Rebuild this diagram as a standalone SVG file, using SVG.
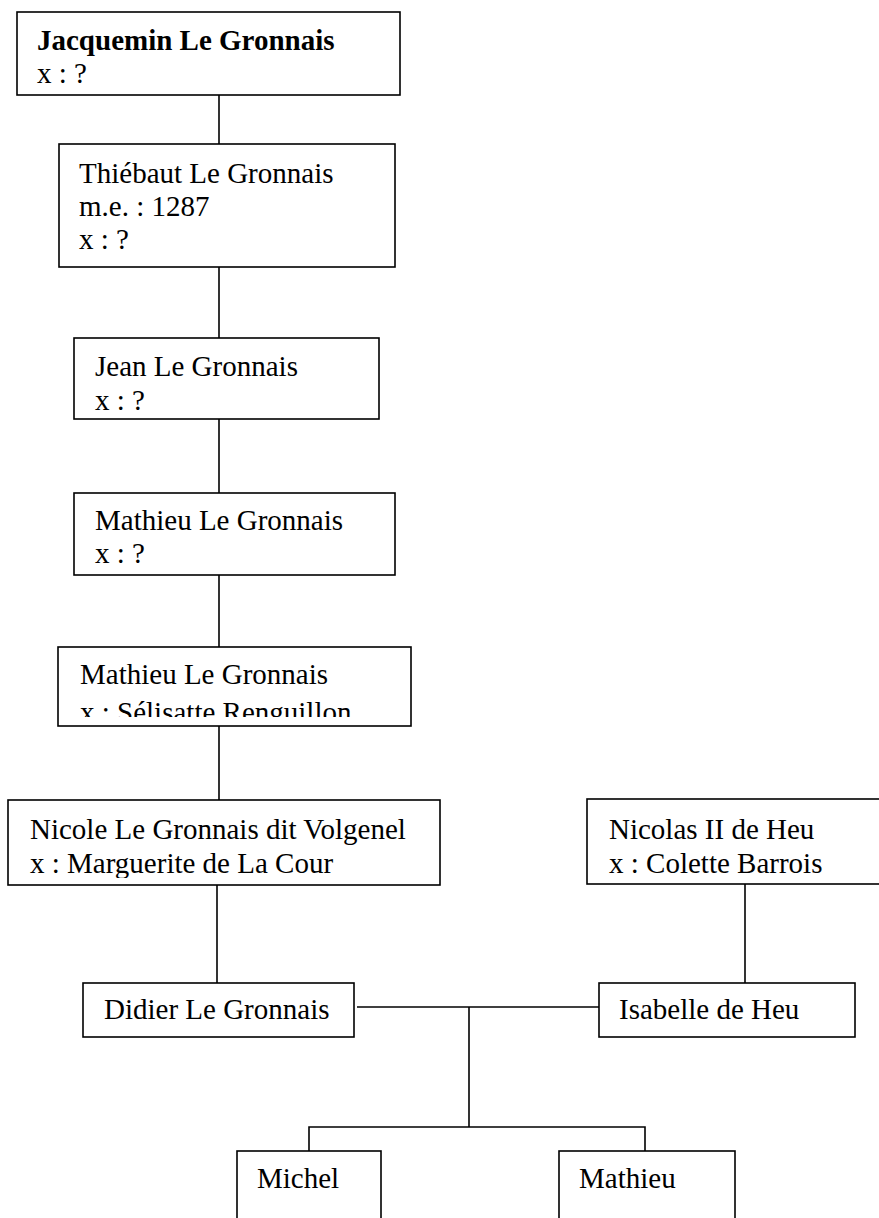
<svg xmlns="http://www.w3.org/2000/svg" width="879" height="1218" viewBox="0 0 879 1218">
<style>
.box{fill:#fff;stroke:#000;stroke-width:1.6}
.t{font-family:"Liberation Serif","Times New Roman",serif;font-size:29px;fill:#000}
.b{font-weight:bold}
.c{stroke:#000;stroke-width:1.6;fill:none}
</style>
<defs>
<clipPath id="clip5"><rect x="58" y="647" width="353" height="70"/></clipPath>
<clipPath id="clip6"><rect x="8" y="800" width="432" height="78"/></clipPath>
</defs>
<rect width="879" height="1218" fill="#fff"/>
<g id="connectors">
<line class="c" x1="219" y1="95" x2="219" y2="144"/>
<line class="c" x1="219" y1="267" x2="219" y2="338"/>
<line class="c" x1="219" y1="419" x2="219" y2="493"/>
<line class="c" x1="219" y1="575" x2="219" y2="647"/>
<line class="c" x1="219" y1="726" x2="219" y2="800"/>
<line class="c" x1="217" y1="885" x2="217" y2="983"/>
<line class="c" x1="745" y1="884" x2="745" y2="983"/>
<line class="c" x1="357" y1="1007" x2="599" y2="1007"/>
<line class="c" x1="469" y1="1007" x2="469" y2="1127"/>
<polyline class="c" points="309,1151 309,1127 645,1127 645,1151"/>
</g>
<g id="jacquemin">
<rect class="box" x="17" y="12" width="383" height="83"/>
<text class="t b" x="37" y="50">Jacquemin Le Gronnais</text>
<text class="t" x="37" y="83">x : ?</text>
</g>
<g id="thiebaut">
<rect class="box" x="59" y="144" width="336" height="123"/>
<text class="t" x="79" y="183">Thiébaut Le Gronnais</text>
<text class="t" x="79" y="216">m.e. : 1287</text>
<text class="t" x="79" y="249">x : ?</text>
</g>
<g id="jean">
<rect class="box" x="74" y="338" width="305" height="81"/>
<text class="t" x="95" y="376">Jean Le Gronnais</text>
<text class="t" x="95" y="410">x : ?</text>
</g>
<g id="mathieu1">
<rect class="box" x="74" y="493" width="321" height="82"/>
<text class="t" x="95" y="530">Mathieu Le Gronnais</text>
<text class="t" x="95" y="563">x : ?</text>
</g>
<g id="mathieu2">
<rect class="box" x="58" y="647" width="353" height="79"/>
<text class="t" x="80" y="684">Mathieu Le Gronnais</text>
<text class="t" x="80" y="722" clip-path="url(#clip5)">x : Sélisatte Renguillon</text>
</g>
<g id="nicole">
<rect class="box" x="8" y="800" width="432" height="85"/>
<text class="t" x="30" y="839">Nicole Le Gronnais dit Volgenel</text>
<text class="t" x="30" y="873" clip-path="url(#clip6)">x : Marguerite de La Cour</text>
</g>
<g id="nicolas">
<rect class="box" x="587" y="799" width="300" height="85"/>
<text class="t" x="609" y="839">Nicolas II de Heu</text>
<text class="t" x="609" y="873">x : Colette Barrois</text>
</g>
<g id="didier">
<rect class="box" x="83" y="983" width="271" height="54"/>
<text class="t" x="104" y="1019">Didier Le Gronnais</text>
</g>
<g id="isabelle">
<rect class="box" x="599" y="983" width="256" height="54"/>
<text class="t" x="619" y="1019">Isabelle de Heu</text>
</g>
<g id="michel">
<rect class="box" x="237" y="1151" width="144" height="80"/>
<text class="t" x="257" y="1188">Michel</text>
</g>
<g id="mathieu3">
<rect class="box" x="559" y="1151" width="176" height="80"/>
<text class="t" x="579" y="1188">Mathieu</text>
</g>
</svg>
